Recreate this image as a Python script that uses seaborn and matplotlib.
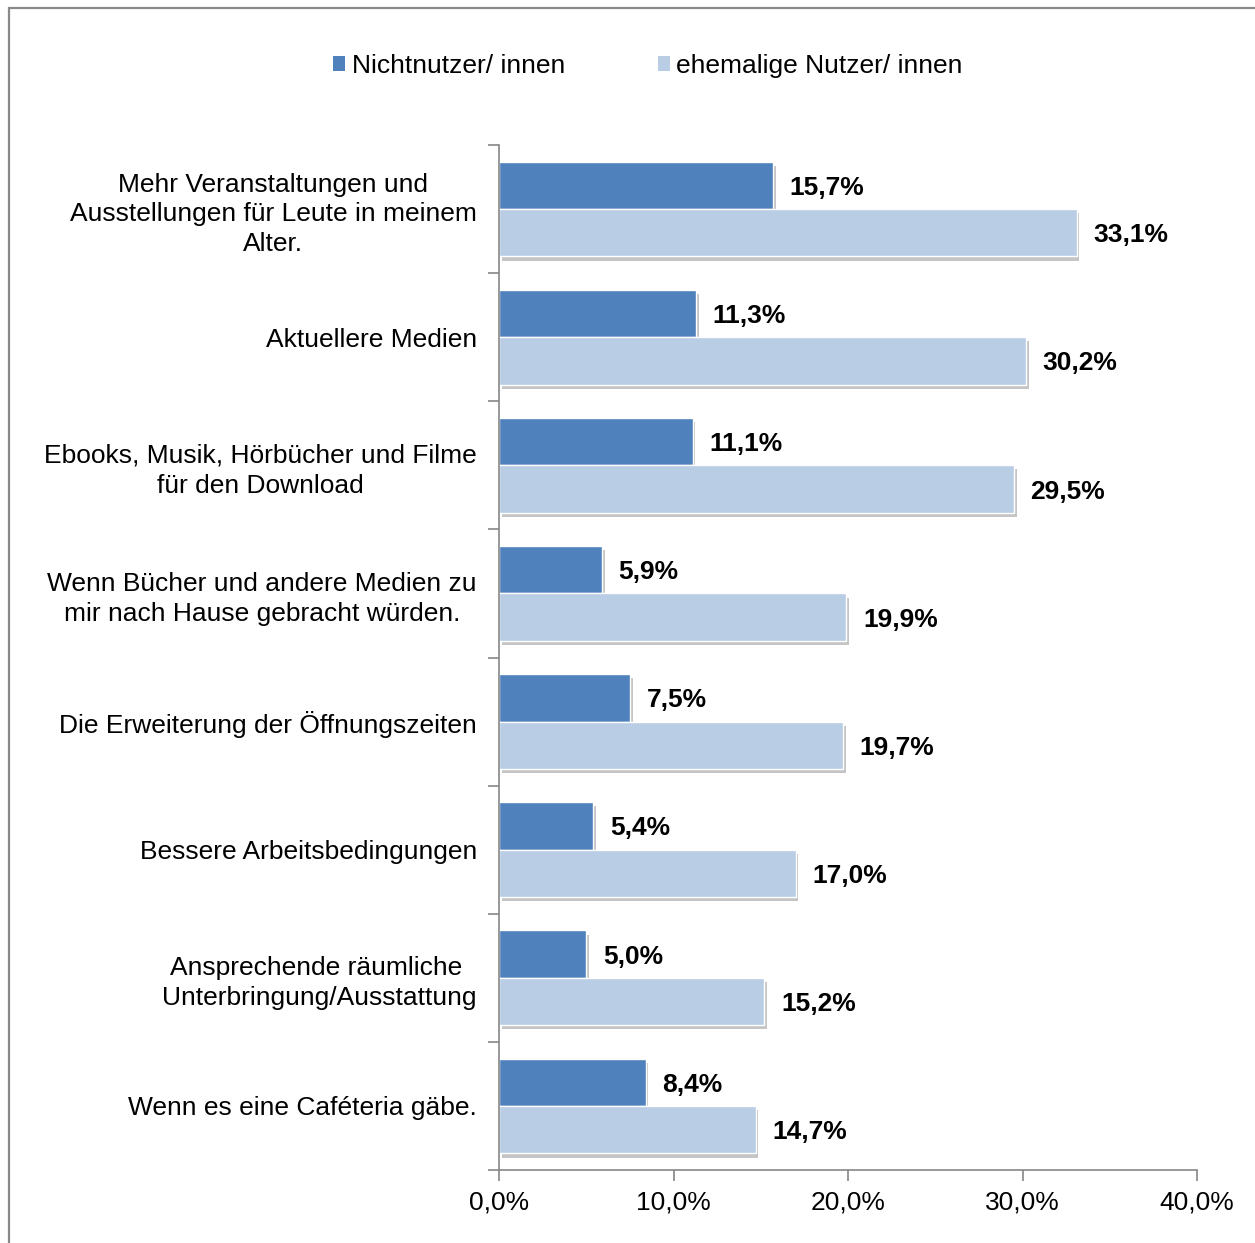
import matplotlib
matplotlib.use("Agg")
import matplotlib.pyplot as plt
import matplotlib.patheffects as pe
from matplotlib.patches import Rectangle, Patch
import seaborn as sns
import pandas as pd

categories = [
    "Mehr Veranstaltungen und\nAusstellungen für Leute in meinem\nAlter.",
    "Aktuellere Medien",
    "Ebooks, Musik, Hörbücher und Filme\nfür den Download",
    "Wenn Bücher und andere Medien zu\nmir nach Hause gebracht würden.",
    "Die Erweiterung der Öffnungszeiten",
    "Bessere Arbeitsbedingungen",
    "Ansprechende räumliche \nUnterbringung/Ausstattung",
    "Wenn es eine Caféteria gäbe.",
]
series_names = ["Nichtnutzer/ innen", "ehemalige Nutzer/ innen"]
nichtnutzer = [15.7, 11.3, 11.1, 5.9, 7.5, 5.4, 5.0, 8.4]
ehemalige = [33.1, 30.2, 29.5, 19.9, 19.7, 17.0, 15.2, 14.7]
x_ticks = [0, 10, 20, 30, 40]
colors = ["#4F81BD", "#B9CDE5"]

rows = []
for c, a, b in zip(categories, nichtnutzer, ehemalige):
    rows.append({"cat": c, "series": series_names[0], "val": a})
    rows.append({"cat": c, "series": series_names[1], "val": b})
df = pd.DataFrame(rows)

sns.set_theme(style="white")
plt.rcParams["font.family"] = ["Liberation Sans", "DejaVu Sans"]
plt.rcParams["text.color"] = "black"
plt.rcParams["xtick.color"] = "black"
plt.rcParams["ytick.color"] = "black"

FS = 19

fig = plt.figure(figsize=(12.55, 12.43), dpi=100)
ax = fig.add_axes([499 / 1255, 1 - 1170 / 1243, (1197 - 499) / 1255, (1170 - 145) / 1243])

sns.barplot(data=df, y="cat", x="val", hue="series", order=categories,
            hue_order=series_names, palette=colors, orient="h", width=0.74,
            saturation=1, ax=ax, legend=False, edgecolor="white", linewidth=1)

for container, vals in zip(ax.containers, [nichtnutzer, ehemalige]):
    for p in container.patches:
        p.set_path_effects([pe.SimplePatchShadow(offset=(2, -3), shadow_rgbFace="#808080", alpha=0.45), pe.Normal()])
    texts = ax.bar_label(container, labels=[f"{v:.1f}%".replace(".", ",") for v in vals],
                         padding=12, fontsize=FS, fontweight="bold", color="black")
    for t in texts:
        t.set_va("center_baseline")

ax.set_xlim(0, 40)
ax.set_ylim(7.5, -0.5)
ax.set_xticks(x_ticks)
ax.set_xticklabels([f"{t:.1f}%".replace(".", ",") for t in x_ticks], fontsize=FS)
ax.set_xlabel("")
ax.set_ylabel("")
ax.set_yticks(range(len(categories)))
ax.set_yticklabels(categories, fontsize=FS, multialignment="center", linespacing=1.3)
ax.set_yticks([i - 0.5 for i in range(len(categories) + 1)], minor=True)
ax.tick_params(axis="y", which="major", length=0, pad=16)
ax.tick_params(axis="y", which="minor", length=8, width=1.2, color="#868686", direction="out", left=True)
ax.tick_params(axis="x", which="major", length=8, width=1.2, color="#868686", direction="out", bottom=True, pad=7)
for s in ["top", "right"]:
    ax.spines[s].set_visible(False)
for s in ["left", "bottom"]:
    ax.spines[s].set_color("#868686")
    ax.spines[s].set_linewidth(1.2)
ax.grid(False)

handles = [Patch(facecolor=c, edgecolor="none") for c in colors]
fig.legend(handles, series_names, loc="center", bbox_to_anchor=(648 / 1255, 1 - 66 / 1243),
           ncol=2, frameon=False, fontsize=FS, handlelength=0.46, handleheight=0.46,
           handletextpad=0.25, columnspacing=3.5)

fig.patches.append(Rectangle((8.5 / 1255, -0.1), 2, 1.1 - 8.5 / 1243, transform=fig.transFigure,
                             fill=False, edgecolor="#898989", linewidth=1.6, zorder=0))

fig.savefig("out.png", dpi=100)
